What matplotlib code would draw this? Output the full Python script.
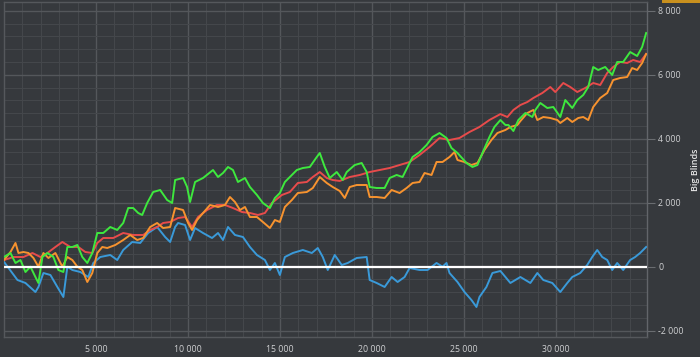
import matplotlib
matplotlib.use("Agg")
import matplotlib.pyplot as plt
from matplotlib.ticker import MultipleLocator, FixedLocator, FuncFormatter
from matplotlib.patches import Rectangle

# ---------------- data (hands played, big blinds) ----------------
blue_hands = [0, 732, 1166, 1708, 1871, 2142, 2522, 2901, 3227, 3444,
              3715, 4149, 4582, 4854, 5233, 5775, 6155, 6480, 6969, 7403,
              7837, 8325, 8759, 9030, 9301, 9464, 9843, 10114, 10385, 10819,
              11307, 11633, 11904, 12175, 12555, 12989, 13368, 13748, 14182, 14453,
              14724, 14995, 15266, 15700, 16242, 16730, 17056, 17327, 17598, 17978,
              18357, 18683, 19171, 19714, 19876, 20256, 20690, 21069, 21395, 21775,
              22046, 22588, 23022, 23510, 23836, 24053, 24215, 24649, 25029, 25409,
              25680, 25842, 26222, 26548, 26982, 27524, 28067, 28609, 28989, 29314,
              29803, 30237, 30616, 30888, 31322, 31701, 31973, 32244, 32515, 32787,
              33058, 33329, 33655, 34034, 34306, 34577, 34903]
blue_bb = [150, -416, -509, -791, -634, -197, -259, -634, -947, 0,
           -103, -166, -322, 116, 303, 366, 209, 522, 772, 741,
           1053, 1241, 928, 772, 1241, 1366, 1303, 834, 1209, 1053,
           897, 1053, 834, 1241, 991, 928, 616, 366, 209, -103,
           116, -259, 303, 428, 522, 428, 584, 303, -103, 366,
           53, 116, 272, 303, -416, -509, -634, -322, -478, -322,
           -41, -103, -103, 116, 0, 116, -197, -478, -791, -1041,
           -1259, -947, -634, -197, -134, -509, -322, -509, -197, -416,
           -509, -791, -509, -322, -197, 53, 303, 522, 303, 209,
           -103, 116, -103, 209, 303, 428, 616]

red_hands = [0, 515, 1057, 1546, 1979, 2359, 2793, 3172, 3606, 4040,
             4420, 4799, 5070, 5396, 5938, 6480, 7023, 7566, 7945, 8325,
             8650, 9030, 9464, 9843, 10223, 10548, 11036, 11578, 12012, 12446,
             12934, 13368, 13802, 14182, 14561, 15104, 15537, 15971, 16459, 16785,
             17164, 17544, 17869, 18249, 18792, 19334, 19876, 20419, 20961, 21503,
             22046, 22588, 23131, 23673, 24215, 24758, 25300, 25842, 26385, 26982,
             27361, 27687, 28067, 28446, 28772, 29260, 29694, 29965, 30399, 30779,
             31159, 31593, 32027, 32407, 32787, 33112, 33492, 33872, 34197, 34577, 34903]
red_bb = [209, 303, 303, 428, 303, 428, 616, 772, 616, 616,
          459, 428, 741, 897, 897, 1053, 991, 991, 1147, 1241,
          1366, 1397, 1522, 1553, 1241, 1553, 1772, 1928, 1928, 1834,
          1709, 1678, 1616, 1678, 1991, 2241, 2334, 2616, 2647, 2803,
          2959, 2772, 2709, 2680, 2803, 2866, 2959, 3022, 3084, 3178,
          3272, 3491, 3741, 4022, 3959, 4022, 4209, 4366, 4584, 4770,
          4678, 4897, 5053, 5147, 5272, 5428, 5616, 5459, 5741, 5616,
          5459, 5584, 5741, 5678, 6053, 6241, 6397, 6366, 6459, 6397, 6647]

green_hands = [0, 352, 624, 895, 1166, 1437, 1708, 1871, 2088, 2359,
               2684, 2956, 3227, 3444, 3715, 3986, 4257, 4528, 4799, 5070,
               5396, 5775, 6155, 6480, 6752, 7023, 7294, 7511, 7783, 8108,
               8488, 8867, 9138, 9301, 9735, 9952, 10114, 10385, 10819, 11362,
               11633, 11904, 12175, 12446, 12717, 13097, 13368, 13748, 14073, 14453,
               14724, 14995, 15266, 15646, 15917, 16242, 16622, 17001, 17164, 17435,
               17706, 18086, 18412, 18629, 19063, 19442, 19714, 19876, 20256, 20690,
               20961, 21341, 21666, 21937, 22209, 22588, 22968, 23293, 23673, 24053,
               24324, 24649, 25137, 25463, 25734, 26005, 26385, 26656, 26982, 27253,
               27416, 27687, 27958, 28338, 28718, 28881, 29152, 29531, 29857, 30237,
               30508, 30888, 31159, 31484, 31756, 32027, 32298, 32678, 33058, 33329,
               33655, 34034, 34414, 34686, 34903]
green_bb = [303, 428, 116, 209, -166, 0, -322, -509, 303, 428,
            303, -103, -166, 616, 616, 678, 303, 116, 428, 1053,
            1053, 1241, 1147, 1366, 1834, 1834, 1678, 1616, 1991, 2334,
            2397, 2084, 1991, 2709, 2772, 2491, 2022, 2647, 2772, 3022,
            2803, 2928, 3116, 3022, 2647, 2772, 2491, 2241, 1991, 1834,
            2147, 2303, 2647, 2866, 3022, 3084, 3116, 3428, 3553, 3116,
            2772, 2959, 2709, 2959, 3178, 3241, 2959, 2491, 2459, 2459,
            2772, 2866, 2803, 3116, 3428, 3584, 3803, 4053, 4178, 4022,
            3709, 3553, 3241, 3116, 3178, 3553, 4053, 4366, 4584, 4428,
            4428, 4240, 4584, 4803, 4678, 4897, 5116, 4959, 4991, 4678,
            5209, 4959, 5209, 5366, 5616, 6241, 6147, 6241, 5991, 6397,
            6397, 6709, 6584, 6866, 7303]

orange_hands = [0, 352, 624, 786, 1057, 1329, 1600, 1871, 2142, 2413,
                2793, 3172, 3444, 3715, 3986, 4257, 4528, 4799, 5070, 5342,
                5613, 6047, 6480, 6860, 7240, 7566, 7945, 8325, 8650, 9030,
                9301, 9735, 10006, 10223, 10494, 10819, 11199, 11633, 12012, 12283,
                12555, 12826, 13097, 13368, 13748, 14073, 14453, 14724, 14995, 15266,
                15646, 15971, 16459, 16785, 17164, 17544, 17869, 18249, 18520, 18792,
                19171, 19714, 19876, 20256, 20690, 21069, 21503, 21883, 22209, 22588,
                22859, 23239, 23510, 23836, 24215, 24487, 24649, 25029, 25409, 25734,
                26114, 26493, 26819, 27253, 27524, 27904, 28067, 28446, 28772, 28989,
                29314, 29694, 30074, 30237, 30616, 30888, 31213, 31484, 31756, 32027,
                32407, 32787, 33112, 33492, 33872, 34143, 34414, 34686, 34903]
orange_bb = [209, 459, 741, 428, 459, 428, 272, 0, 428, 272,
             428, 0, 303, 209, 0, -103, -478, -197, 428, 616,
             584, 678, 834, 991, 834, 897, 1241, 1366, 1209, 1241,
             1834, 1772, 1366, 1147, 1459, 1678, 1928, 1866, 1928, 2178,
             2022, 1772, 1866, 1553, 1553, 1397, 1209, 1459, 1397, 1866,
             2084, 2303, 2334, 2459, 2803, 2616, 2491, 2366, 2147, 2491,
             2553, 2553, 2178, 2178, 2147, 2397, 2303, 2459, 2616, 2647,
             2928, 2866, 3272, 3272, 3428, 3584, 3334, 3272, 3178, 3241,
             3647, 3959, 4178, 4272, 4366, 4428, 4550, 4803, 4897, 4584,
             4678, 4647, 4584, 4491, 4647, 4522, 4647, 4678, 4584, 4991,
             5272, 5428, 5834, 5897, 5928, 6209, 6147, 6366, 6647]

x_tick_values = [5000, 10000, 15000, 20000, 25000, 30000]
y_tick_values = [-2000, 0, 2000, 4000, 6000, 8000]
y_label = "Big Blinds"

# ---------------- style ----------------
BG = "#36393d"
plt.rcParams['font.family'] = ['Open Sans', 'DejaVu Sans']

fig = plt.figure(figsize=(7.0, 3.57), dpi=100)
fig.patch.set_facecolor(BG)
ax = fig.add_axes([4 / 700, 1 - 337 / 357, 643 / 700, 335 / 357])
ax.set_facecolor(BG)

ax.set_xlim(0, 34950)
ax.set_ylim(-2197, 8272)

ax.xaxis.set_major_locator(FixedLocator(x_tick_values))
ax.xaxis.set_minor_locator(MultipleLocator(1000))
ax.yaxis.set_major_locator(FixedLocator(y_tick_values))
ax.yaxis.set_minor_locator(MultipleLocator(400))

fmt = FuncFormatter(lambda v, p: f"{int(round(v)):,}".replace(",", " "))
ax.xaxis.set_major_formatter(fmt)
ax.yaxis.set_major_formatter(fmt)

ax.grid(which='major', color='#54575b', lw=1.0, zorder=0)
ax.grid(which='minor', color='#44474b', lw=0.8, zorder=0)
ax.set_axisbelow(True)

ax.yaxis.tick_right()
ax.yaxis.set_label_position('right')
ax.tick_params(axis='y', which='major', length=6, width=0.8, color='#6a6d71',
               labelcolor='#cfd0d2', labelsize=6.3, pad=2)
ax.tick_params(axis='x', which='major', length=0, labelcolor='#cfd0d2',
               labelsize=6.3, pad=6)
ax.tick_params(which='minor', length=0)
ax.tick_params(axis='y', left=False, labelleft=False)

for s in ax.spines.values():
    s.set_color('#55585c')
    s.set_linewidth(1.0)
ax.spines['right'].set_color('#62656a')

ax.set_ylabel(y_label, color='#e6e6e6', fontsize=6.5, fontweight='semibold',
              rotation=90)
ax.yaxis.set_label_coords(1.068, 0.5)

lw = 1.4
ax.plot(blue_hands, blue_bb, color='#3a9ad9', lw=lw, zorder=3)
ax.plot(red_hands, red_bb, color='#e84b4b', lw=lw, zorder=4)
ax.plot(orange_hands, orange_bb, color='#f7932f', lw=lw, zorder=5)
ax.plot(green_hands, green_bb, color='#3ee83e', lw=lw, zorder=6)
ax.axhline(0, color='white', lw=1.6, zorder=7)

fig.add_artist(Rectangle((662 / 700, 1 - 3 / 357), 38 / 700, 3 / 357,
                         transform=fig.transFigure, color='#c8901e', lw=0))

fig.savefig("out.png", dpi=100, facecolor=BG)
